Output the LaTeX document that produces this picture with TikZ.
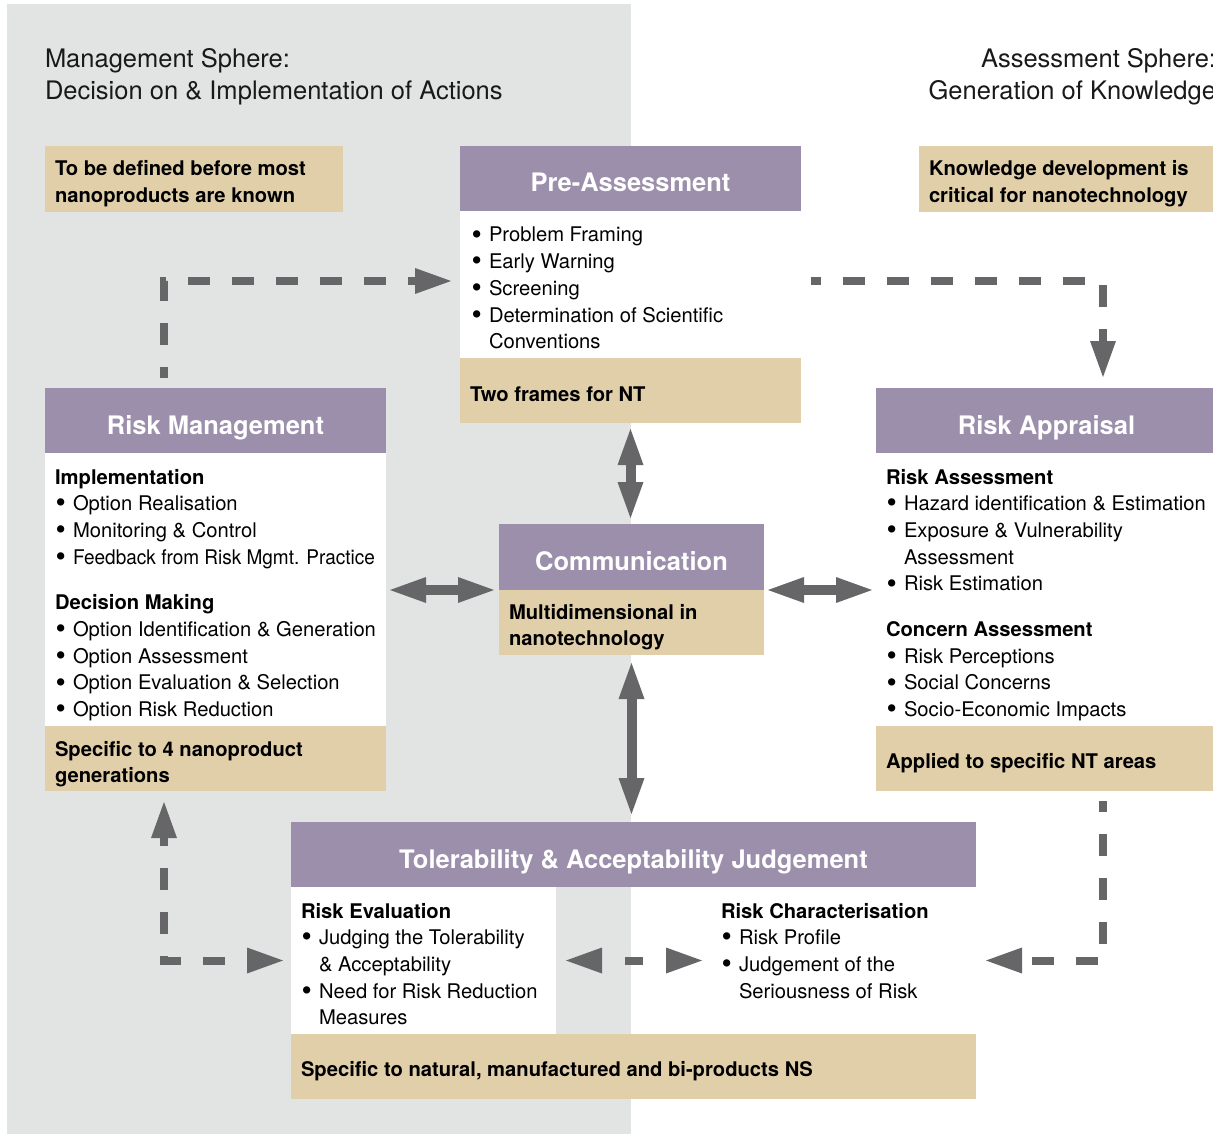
\documentclass[tikz,border=0pt]{standalone}
\usepackage{fontspec}
\setmainfont{TeX Gyre Heros}
\usepackage{graphicx}
\usetikzlibrary{arrows.meta,calc}

\definecolor{mgmtgray}{RGB}{226,228,227}
\definecolor{hdrpurple}{RGB}{155,143,172}
\definecolor{notetan}{RGB}{225,207,170}
\definecolor{arrowgray}{RGB}{102,102,104}

% stacked text lines with a fixed baseline distance; baseline of the block = first line
\newcommand\txtlines[2][26.7pt]{\vtop{\baselineskip=#1\relax\lineskiplimit=-\maxdimen #2}}
\newcommand\bigbullet{\raisebox{-2.2pt}{\scalebox{1.45}{\textbullet}}}
\newcommand\bitem[1]{\hbox{\makebox[18pt][l]{\hspace*{0.5pt}\bigbullet}#1}}
\newcommand\bcont[1]{\hbox{\hspace*{18pt}#1}}
\newcommand\subhd[1]{\hbox{\bfseries #1}}
\newcommand\tline[1]{\hbox{#1}}
\newcommand\groupgap{\vskip 19pt}
\newcommand\bodysize{\fontsize{20.2pt}{26.7pt}\selectfont}

\begin{document}
\begin{tikzpicture}[x=1pt,y=-1pt,
  >={Triangle[length=36pt,width=26pt,line width=0pt]},
  box/.style={rectangle, inner sep=0pt, outer sep=0pt, anchor=north west},
  hdr/.style={box, fill=hdrpurple, text=white,
    font=\fontsize{25.5pt}{30pt}\selectfont\bfseries, text height=27pt, text depth=0pt},
  bodybox/.style={box, fill=white},
  tanbox/.style={box, fill=notetan},
  txt/.style={inner sep=0pt, outer sep=0pt, anchor=base west, font=\bodysize, text=black},
  boldtxt/.style={txt, font=\bodysize\bfseries},
  title/.style={inner sep=0pt, outer sep=0pt, font=\fontsize{25.5pt}{32pt}\selectfont, text=black!90},
  solidflow/.style={draw=arrowgray, line width=10pt, <->},
  dashflow/.style={draw=arrowgray, line width=8pt, dash pattern=on 22pt off 22pt, ->},
]
\useasboundingbox (0,0) rectangle (1213,1134);
\clip (0,0) rectangle (1213,1134);
\fill[white] (0,0) rectangle (1213,1134);

% management sphere backdrop
\node[box, fill=mgmtgray, minimum width=624pt, minimum height=1140pt] (mgmt) at (7,4) {};

% sphere titles
\node[title, anchor=base west] (mtitle) at (45,68)
  {\txtlines[32pt]{\tline{Management Sphere:}\tline{Decision on \& Implementation of Actions}}};
\node[title, anchor=base east] (atitle) at (1216,68)
  {\txtlines[32pt]{\hbox to 320pt{\hfill Assessment Sphere:}\hbox to 320pt{\hfill Generation of Knowledge}}};

% side notes
\node[tanbox, minimum width=298pt, minimum height=66pt] (note1) at (45,146) {};
\node[boldtxt] (note1txt) at (55,176)
  {\txtlines{\tline{To be defined before most}\tline{nanoproducts are known}}};
\node[tanbox, minimum width=300pt, minimum height=66pt] (note2) at (919,146) {};
\node[boldtxt] (note2txt) at (929,176)
  {\txtlines{\tline{Knowledge development is}\tline{critical for nanotechnology}}};

% Pre-Assessment
\node[hdr, minimum width=341pt, minimum height=65pt] (pah) at (460,146) {Pre-Assessment};
\node[bodybox, minimum width=341pt, minimum height=147pt] (pab) at (460,211) {};
\node[tanbox, minimum width=341pt, minimum height=65pt] (pat) at (460,358) {};
\node[txt] (pal) at (471,242) {\txtlines{%
  \bitem{Problem Framing}
  \bitem{Early Warning}
  \bitem{Screening}
  \bitem{Determination of Scientific}
  \bcont{Conventions}}};
\node[boldtxt] (patxt) at (470,401) {Two frames for NT};

% Risk Management
\node[hdr, minimum width=341pt, minimum height=65pt] (rmh) at (45,388) {Risk Management};
\node[bodybox, minimum width=341pt, minimum height=273pt] (rmb) at (45,453) {};
\node[tanbox, minimum width=341pt, minimum height=65pt] (rmt) at (45,726) {};
\node[txt] (rml) at (55,484) {\txtlines{%
  \subhd{Implementation}
  \bitem{Option Realisation}
  \bitem{Monitoring \& Control}
  \bitem{\scalebox{0.94}[1]{Feedback from Risk Mgmt. Practice}}
  \groupgap
  \subhd{Decision Making}
  \bitem{Option Identification \& Generation}
  \bitem{Option Assessment}
  \bitem{Option Evaluation \& Selection}
  \bitem{Option Risk Reduction}}};
\node[boldtxt] (rmtxt) at (55,756)
  {\txtlines{\tline{Specific to 4 nanoproduct}\tline{generations}}};

% Risk Appraisal
\node[hdr, minimum width=341pt, minimum height=65pt] (rah) at (876,388) {Risk Appraisal};
\node[bodybox, minimum width=341pt, minimum height=273pt] (rab) at (876,453) {};
\node[tanbox, minimum width=341pt, minimum height=65pt] (rat) at (876,726) {};
\node[txt] (ral) at (886,484) {\txtlines{%
  \subhd{Risk Assessment}
  \bitem{Hazard identification \& Estimation}
  \bitem{Exposure \& Vulnerability}
  \bcont{Assessment}
  \bitem{Risk Estimation}
  \groupgap
  \subhd{Concern Assessment}
  \bitem{Risk Perceptions}
  \bitem{Social Concerns}
  \bitem{Socio-Economic Impacts}}};
\node[boldtxt] (ratxt) at (886,768) {Applied to specific NT areas};

% Communication
\node[hdr, minimum width=265pt, minimum height=66pt] (comh) at (499,524) {Communication};
\node[tanbox, minimum width=265pt, minimum height=65pt] (comt) at (499,590) {};
\node[boldtxt] (comtxt) at (509,619)
  {\txtlines{\tline{Multidimensional in}\tline{nanotechnology}}};

% Tolerability & Acceptability Judgement
\node[hdr, minimum width=685pt, minimum height=65pt] (tolh) at (291,822) {Tolerability \& Acceptability Judgement};
\node[box, minimum width=685pt, minimum height=147pt] (tolb) at (291,887) {};
\node[bodybox, minimum width=265pt, minimum height=147pt] (revb) at (291,887) {};
\node[tanbox, minimum width=685pt, minimum height=65pt] (tolt) at (291,1034) {};
\node[txt] (revl) at (301,918) {\txtlines{%
  \subhd{Risk Evaluation}
  \bitem{Judging the Tolerability}
  \bcont{\& Acceptability}
  \bitem{Need for Risk Reduction}
  \bcont{Measures}}};
\node[txt] (rcl) at (721,918) {\txtlines{%
  \subhd{Risk Characterisation}
  \bitem{Risk Profile}
  \bitem{Judgement of the}
  \bcont{Seriousness of Risk}}};
\node[boldtxt] (toltxt) at (301,1076) {Specific to natural, manufactured and bi-products NS};

% dashed cycle between the stages
\draw[dashflow, dash phase=11pt]
  ([xshift=119pt,yshift=10pt]rmh.north west) |- ([xshift=-9pt,yshift=3.5pt]pab.west);
\draw[dashflow, dash phase=12pt]
  ([xshift=10pt,yshift=3.5pt]pab.east) -| ([xshift=227pt,yshift=11pt]rah.north west);
\draw[dashflow, dash phase=11pt]
  ([xshift=227pt,yshift=-10pt]rat.south west) |- ([xshift=10pt]tolb.east);
\draw[dashflow, <->, dash phase=22pt]
  ([xshift=-8pt]tolb.west) -| ([xshift=119pt,yshift=-11pt]rmt.south west);
\draw[dashflow, <->, dash pattern=on 18pt off 23pt, dash phase=18pt]
  ([xshift=10pt]revb.east) -- ($(rcl.west |- revb.east)+(-19,0)$);

% communication links
\draw[solidflow] ([yshift=-6pt]pat.south) -- ($(pat.south |- comh.north)+(0,-6)$);
\draw[solidflow] ($(rmb.east |- comh.south)+(4,0)$) -- ([xshift=-5pt]comh.south west);
\draw[solidflow] ([xshift=4pt]comh.south east) -- ($(rab.west |- comh.south)+(-4,0)$);
\draw[solidflow] ([yshift=-8pt]comt.south) -- ($(comt.south |- tolh.north)+(0,-8)$);
\end{tikzpicture}
\end{document}
